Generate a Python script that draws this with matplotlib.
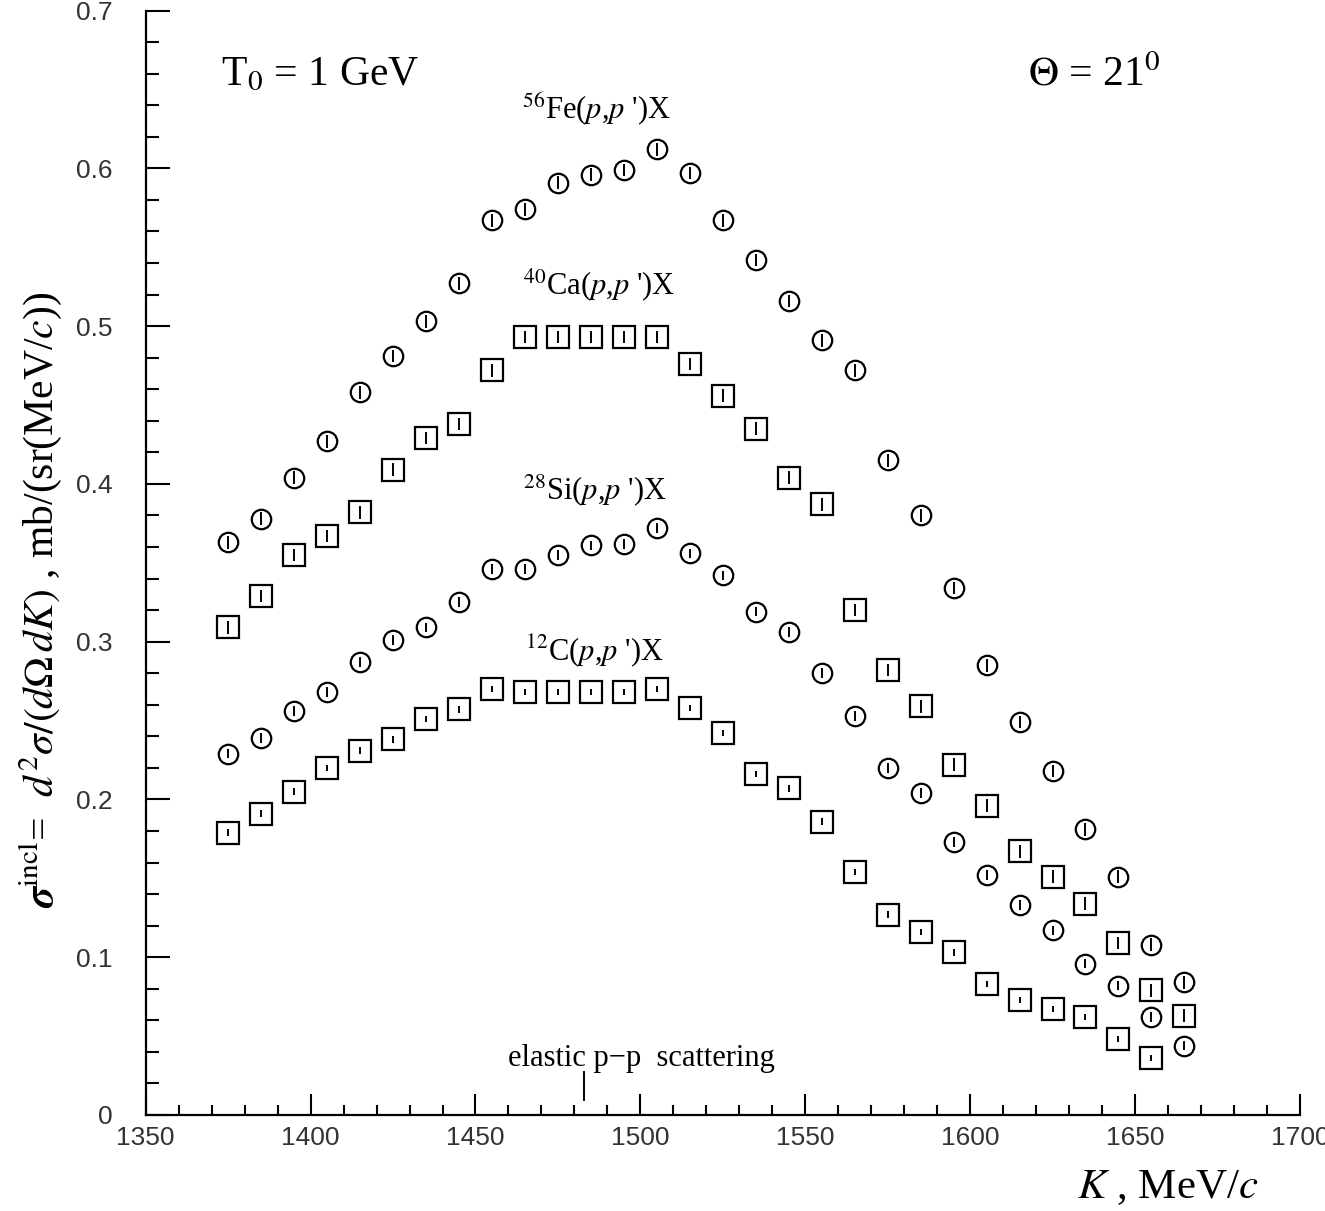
import matplotlib
matplotlib.use("Agg")
import matplotlib.pyplot as plt
from matplotlib.ticker import MultipleLocator, FixedLocator

plt.rcParams['font.family'] = ['Liberation Serif', 'DejaVu Serif']
plt.rcParams['mathtext.fontset'] = 'stix'

# ---- data ----
K = [1375, 1385, 1395, 1405, 1415, 1425, 1435, 1445, 1455, 1465,
     1475, 1485, 1495, 1505, 1515, 1525, 1535, 1545, 1555, 1565,
     1575, 1585, 1595, 1605, 1615, 1625, 1635, 1645, 1655, 1665]

fe56 = [0.363, 0.378, 0.404, 0.427, 0.458, 0.481, 0.503, 0.527, 0.567, 0.574,
        0.591, 0.596, 0.599, 0.612, 0.597, 0.567, 0.542, 0.516, 0.491, 0.472,
        0.415, 0.380, 0.334, 0.285, 0.249, 0.218, 0.181, 0.151, 0.108, 0.084]

ca40 = [0.309, 0.329, 0.355, 0.367, 0.382, 0.409, 0.429, 0.438, 0.472, 0.493,
        0.493, 0.493, 0.493, 0.493, 0.476, 0.456, 0.435, 0.404, 0.387, 0.320,
        0.282, 0.259, 0.222, 0.196, 0.167, 0.151, 0.134, 0.109, 0.079, 0.063]

si28 = [0.229, 0.239, 0.256, 0.268, 0.287, 0.301, 0.309, 0.325, 0.346, 0.346,
        0.355, 0.361, 0.362, 0.372, 0.356, 0.342, 0.319, 0.306, 0.280, 0.253,
        0.220, 0.204, 0.173, 0.152, 0.133, 0.117, 0.096, 0.082, 0.062, 0.044]

K_c12 = K[:-1]
c12 = [0.179, 0.191, 0.205, 0.220, 0.231, 0.238, 0.251, 0.257, 0.270, 0.268,
       0.268, 0.268, 0.268, 0.270, 0.258, 0.242, 0.216, 0.207, 0.186, 0.154,
       0.127, 0.116, 0.103, 0.083, 0.073, 0.067, 0.062, 0.048, 0.036]

err_fe, err_ca, err_si, err_c = 0.004, 0.004, 0.003, 0.002

elastic_K = 1483
elastic_y = [0.0095, 0.027]

xticks = [1350, 1400, 1450, 1500, 1550, 1600, 1650, 1700]
yticks = [0, 0.1, 0.2, 0.3, 0.4, 0.5, 0.6, 0.7]
yticklabels = ['0', '0.1', '0.2', '0.3', '0.4', '0.5', '0.6', '0.7']

# ---- figure ----
fig = plt.figure(figsize=(13.25, 12.11), dpi=100)
ax = fig.add_axes([0.110, 0.0793, 0.871, 0.912])

style_c = dict(fmt='o', mfc='none', mec='black', mew=1.6, ms=14,
               ecolor='black', elinewidth=1.4, capsize=0)
style_s = dict(fmt='s', mfc='none', mec='black', mew=1.6, ms=15.5,
               ecolor='black', elinewidth=1.4, capsize=0)

ax.errorbar(K, fe56, yerr=err_fe, **style_c)
ax.errorbar(K, ca40, yerr=err_ca, **style_s)
ax.errorbar(K, si28, yerr=err_si, **style_c)
ax.errorbar(K_c12, c12, yerr=err_c, **style_s)

ax.set_xlim(1350, 1700)
ax.set_ylim(0, 0.7)

for s in ['top', 'right']:
    ax.spines[s].set_visible(False)
for s in ['left', 'bottom']:
    ax.spines[s].set_linewidth(1.6)

ax.xaxis.set_major_locator(FixedLocator(xticks))
ax.xaxis.set_minor_locator(MultipleLocator(10))
ax.yaxis.set_major_locator(FixedLocator(yticks))
ax.yaxis.set_minor_locator(MultipleLocator(0.02))
ax.set_yticklabels(yticklabels)

ax.tick_params(axis='y', which='major', direction='in', length=17, width=1.5,
               pad=24, labelsize=19, labelcolor='#333333')
ax.tick_params(axis='y', which='minor', direction='in', length=9.5, width=1.5)
ax.tick_params(axis='x', which='major', direction='in', length=15, width=1.5,
               pad=8, labelsize=19, labelcolor='#333333')
ax.tick_params(axis='x', which='minor', direction='in', length=7, width=1.5)
for lab in ax.get_xticklabels() + ax.get_yticklabels():
    lab.set_fontfamily('Liberation Sans')

# annotations
ax.text(1372.7, 0.659, r'T$_0$ = 1 GeV', fontsize=30, ha='left', va='center')
ax.text(1617.6, 0.659, r'$\Theta$ = 21$^0$', fontsize=30, ha='left', va='center')

lab_fs = 22
ax.text(1464, 0.631, r"$^{56}$Fe($p$,$p$ ')X", fontsize=lab_fs, ha='left', va='baseline')
ax.text(1464.5, 0.520, r"$^{40}$Ca($p$,$p$ ')X", fontsize=lab_fs, ha='left', va='baseline')
ax.text(1464.5, 0.390, r"$^{28}$Si($p$,$p$ ')X", fontsize=lab_fs, ha='left', va='baseline')
ax.text(1465, 0.2885, r"$^{12}$C($p$,$p$ ')X", fontsize=lab_fs, ha='left', va='baseline')

ax.text(1460, 0.031, 'elastic p\u2212p  scattering', fontsize=22, ha='left', va='baseline')
ax.plot([elastic_K, elastic_K], elastic_y, color='black', lw=1.4)

fig.text(0.030, 0.505,
         r'$\boldsymbol{\sigma}^{\rm incl}$=  $d^2\sigma/(d\Omega\,dK)$ , mb/(sr(MeV/$c$))',
         rotation=90, fontsize=30, ha='center', va='center')
fig.text(0.8815, 0.019, r'$K$ , MeV/$c$', fontsize=31, ha='center', va='center')

fig.savefig('out.png', dpi=100)
